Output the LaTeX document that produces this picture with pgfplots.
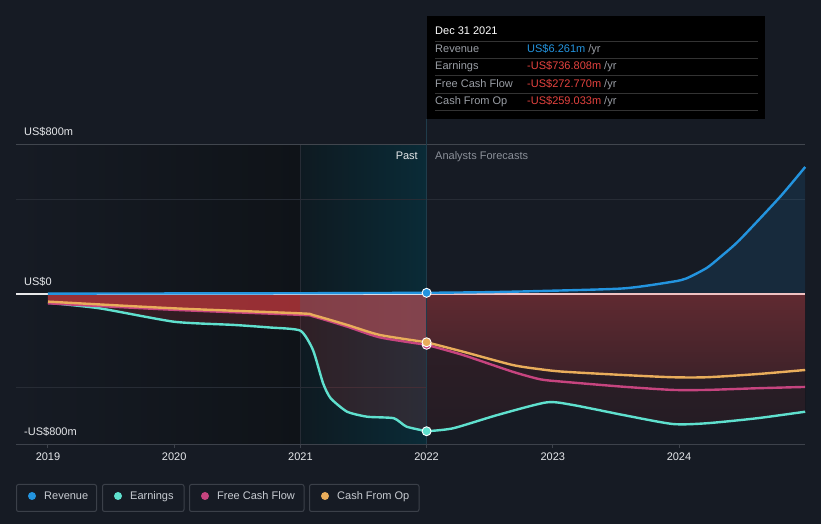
\documentclass[border=0pt]{standalone}
\usepackage{fontspec}
\setmainfont{Liberation Sans}
\usepackage{pgfplots}
\usepackage{pgfplotstable}
\pgfplotsset{compat=1.18}
\usepgfplotslibrary{fillbetween}

\definecolor{bg}{HTML}{161B24}
\definecolor{bgdark}{HTML}{0F1318}
\definecolor{bandL}{HTML}{0E1A21}
\definecolor{bandR}{HTML}{0A2B37}
\definecolor{gridA}{HTML}{41464E}
\definecolor{gridB}{HTML}{272C35}
\definecolor{axisc}{HTML}{3D424B}
\definecolor{revc}{HTML}{2394DF}
\definecolor{earnc}{HTML}{5FE0CE}
\definecolor{fcfc}{HTML}{C6447F}
\definecolor{cfoc}{HTML}{E9AD5B}
\definecolor{redfill}{HTML}{C83A3E}
\definecolor{pinkfill}{HTML}{B8525C}
\definecolor{fTop}{HTML}{602A31}
\definecolor{fMid}{HTML}{3E2229}
\definecolor{fLow}{HTML}{2D1E26}
\definecolor{fBot}{HTML}{241C24}
\definecolor{zeroF}{HTML}{F0C2C2}
\definecolor{txt}{HTML}{E6E8EB}
\definecolor{muted}{HTML}{8B9099}
\definecolor{ttlabel}{HTML}{9A9EA5}
\definecolor{ttred}{HTML}{E5433F}
\definecolor{ttline}{HTML}{333333}
\definecolor{vline}{HTML}{1F3C4B}
\definecolor{legb}{HTML}{3B4049}
\definecolor{legtxt}{HTML}{C8CCD2}

% ---------- Revenue ----------
\pgfplotstableread{
x y
2019.0 2
2020.0 3
2021.0 4
2022.0 6.261
}\revP
\pgfplotstableread{
x y
2022.0 6.261
2022.5 10
2022.9 16
2023.56 30
2023.95 66
2024.06 84
2024.22 140
2024.33 200
2024.48 290
2024.8 521
2025.0 682
}\revF

% ---------- Earnings ----------
\pgfplotstableread{
x y
2019.0 -47
2019.41 -77
2020.0 -149
2020.47 -166
2020.76 -180
2021.0 -197
2021.1 -301
2021.18 -480
2021.24 -560
2021.37 -632
2021.53 -659
2021.74 -667
2021.84 -712
2022.0 -736.808
}\earnP
\pgfplotstableread{
x y
2022.0 -736.808
2022.21 -721
2022.56 -650
2022.95 -582
2023.16 -596
2023.56 -650
2023.95 -698
2024.22 -694
2024.62 -667
2025.0 -632
}\earnF

% ---------- Cash From Op ----------
\pgfplotstableread{
x y
2019.0 -41
2020.0 -77
2021.0 -104
}\cfoPa
\pgfplotstableread{
x y
2021.0 -104
2021.1 -113
2021.37 -166
2021.63 -220
2022.0 -259.033
}\cfoPb
\pgfplotstableread{
x y
2019.0 -41
2020.0 -77
2021.0 -104
2021.1 -113
2021.37 -166
2021.63 -220
2022.0 -259.033
}\cfoP
\pgfplotstableread{
x y
2022.0 -259.033
2022.29 -310
2022.68 -381
2022.9 -404
2023.08 -417
2023.56 -435
2023.95 -447
2024.22 -447
2024.62 -430
2025.0 -408
}\cfoF

% ---------- Free Cash Flow ----------
\pgfplotstableread{
x y
2019.0 -50
2020.0 -85
2021.0 -112
2021.1 -120
2021.37 -175
2021.63 -233
2022.0 -272.770
}\fcfP
\pgfplotstableread{
x y
2022.0 -272.770
2022.29 -328
2022.68 -417
2022.9 -458
2023.08 -471
2023.56 -498
2023.95 -515
2024.22 -515
2024.62 -506
2025.0 -499
}\fcfF

\begin{document}
\begin{tikzpicture}[font=\fontsize{11bp}{13bp}\selectfont]
\path (0,0) rectangle (821bp,524bp);

\begin{axis}[at={(0,0)}, anchor=south west, scale only axis,
  width=821bp, height=524bp,
  xmin=2018.6197, xmax=2025.1252, ymin=-1234.9, ymax=1578.5,
  hide axis, set layers]
  \begin{pgfonlayer}{axis background}
    \fill[bg] (rel axis cs:0,0) rectangle (rel axis cs:1,1);
    \shade[left color=bg, right color=bgdark] (axis cs:2018.7465,800) rectangle (axis cs:2021,-805.4);
    \shade[left color=bandL, right color=bandR] (axis cs:2021,800) rectangle (axis cs:2022,-805.4);
    \draw[gridB, line width=1bp] (axis cs:2021,800) -- (axis cs:2021,-805.4);
    \draw[gridA, line width=1bp] (axis cs:2018.7465,800) -- (axis cs:2024.998,800);
    \draw[gridB, line width=1bp] (axis cs:2018.7465,504.7) -- (axis cs:2024.998,504.7);
    \draw[gridB, line width=1bp] (axis cs:2018.7465,-503.6) -- (axis cs:2024.998,-503.6);
    \draw[axisc, line width=1bp] (axis cs:2018.7465,-805.4) -- (axis cs:2024.998,-805.4);
    \draw[axisc, line width=1bp] (axis cs:2019,-805.4) -- (axis cs:2019,-826.8);
    \draw[axisc, line width=1bp] (axis cs:2020,-805.4) -- (axis cs:2020,-826.8);
    \draw[axisc, line width=1bp] (axis cs:2021,-805.4) -- (axis cs:2021,-826.8);
    \draw[axisc, line width=1bp] (axis cs:2022,-805.4) -- (axis cs:2022,-826.8);
    \draw[axisc, line width=1bp] (axis cs:2023,-805.4) -- (axis cs:2023,-826.8);
    \draw[axisc, line width=1bp] (axis cs:2024,-805.4) -- (axis cs:2024,-826.8);
  \end{pgfonlayer}

  % invisible boundary paths
  \addplot[draw=none, name path=zP, forget plot] coordinates {(2019,0) (2022,0)};
  \addplot[draw=none, name path=zPa, forget plot] coordinates {(2019,0) (2021,0)};
  \addplot[draw=none, name path=zPb, forget plot] coordinates {(2021,0) (2022,0)};
  \addplot[draw=none, name path=zF, forget plot] coordinates {(2022,0) (2025,0)};
  \addplot[draw=none, name path=eP, forget plot] table {\earnP};
  \addplot[draw=none, name path=eF, forget plot] table {\earnF};
  \addplot[draw=none, name path=cPa, forget plot] table {\cfoPa};
  \addplot[draw=none, name path=cPb, forget plot] table {\cfoPb};
  \addplot[draw=none, name path=cF, forget plot] table {\cfoF};
  \addplot[draw=none, name path=rF, forget plot] table {\revF};

  % fills
  \addplot[fill=revc, fill opacity=0.13, draw=none, forget plot] fill between[of=rF and zF];
  \addplot[fill=redfill, fill opacity=0.18, draw=none, forget plot] fill between[of=zP and eP];
  \addplot[fill=redfill, fill opacity=0.68, draw=none, forget plot] fill between[of=zPa and cPa];
  \addplot[fill=pinkfill, fill opacity=0.62, draw=none, forget plot] fill between[of=zPb and cPb];
  \addplot[draw=none, top color=fTop, bottom color=fMid, forget plot] fill between[of=zF and cF];
  \addplot[draw=none, top color=fLow, bottom color=fBot, forget plot] fill between[of=cF and eF];

  \draw[white, opacity=0.9, line width=1.2bp] (axis cs:2018.7465,0) -- (axis cs:2022,0);
  \draw[zeroF, line width=1.2bp] (axis cs:2022,0) -- (axis cs:2024.998,0);

  % visible lines
  \addplot[earnc, line width=2.4bp, smooth, tension=0.35, forget plot] table {\earnP};
  \addplot[earnc, line width=2.4bp, smooth, tension=0.4, forget plot] table {\earnF};
  \addplot[fcfc, line width=2.4bp, smooth, tension=0.4, forget plot] table {\fcfP};
  \addplot[fcfc, line width=2.4bp, smooth, tension=0.4, forget plot] table {\fcfF};
  \addplot[cfoc, line width=2.4bp, smooth, tension=0.4, forget plot] table {\cfoP};
  \addplot[cfoc, line width=2.4bp, smooth, tension=0.4, forget plot] table {\cfoF};
  \addplot[revc, line width=2.4bp, smooth, tension=0.4, forget plot] table {\revP};
  \addplot[revc, line width=2.4bp, smooth, tension=0.4, forget plot] table {\revF};

  \draw[vline, line width=1.5bp] (axis cs:2022,-805.4) -- (axis cs:2022,940);

  \addplot[only marks, mark=*, mark size=4.5bp, mark options={fill=fcfc, draw=white, line width=0.9bp}] coordinates {(2022,-272.770)};
  \addplot[only marks, mark=*, mark size=4.5bp, mark options={fill=cfoc, draw=white, line width=0.9bp}] coordinates {(2022,-259.033)};
  \addplot[only marks, mark=*, mark size=4.5bp, mark options={fill=earnc, draw=white, line width=0.9bp}] coordinates {(2022,-736.808)};
  \addplot[only marks, mark=*, mark size=4.5bp, mark options={fill=revc, draw=white, line width=0.9bp}] coordinates {(2022,6.261)};
\end{axis}

\begin{scope}[shift={(0,524bp)}, x=1bp, y=-1bp]
  \foreach \i/\lab in {0/2019,1/2020,2/2021,3/2022,4/2023,5/2024} {
    \node[txt, anchor=base, inner sep=0] at ({48+126.2*\i},461) {\lab};
  }
  \node[txt, anchor=base west, inner sep=0] at (24,136) {US\$800m};
  \node[txt, anchor=base west, inner sep=0] at (24,286) {US\$0};
  \node[txt, anchor=base west, inner sep=0] at (24,436) {-US\$800m};
  \node[txt, anchor=base east, inner sep=0] at (418,160) {Past};
  \node[muted, anchor=base west, inner sep=0] at (435,160) {Analysts Forecasts};

  % tooltip
  \fill[black] (427,16) rectangle (765,119);
  \node[white, anchor=base west, inner sep=0] at (435,35) {Dec 31 2021};
  \foreach \yy in {41.7,58.3,76,93.3,111} {
    \draw[ttline, line width=1bp] (435,\yy) -- (758,\yy);
  }
  \node[ttlabel, anchor=base west, inner sep=0] at (435,53) {Revenue};
  \node[ttlabel, anchor=base west, inner sep=0] at (435,70) {Earnings};
  \node[ttlabel, anchor=base west, inner sep=0] at (435,87.5) {Free Cash Flow};
  \node[ttlabel, anchor=base west, inner sep=0] at (435,104.5) {Cash From Op};
  \node[anchor=base west, inner sep=0] at (527,53) {\textcolor{revc}{US\$6.261m} \textcolor{ttlabel}{/yr}};
  \node[anchor=base west, inner sep=0] at (527,70) {\textcolor{ttred}{-US\$736.808m} \textcolor{ttlabel}{/yr}};
  \node[anchor=base west, inner sep=0] at (527,87.5) {\textcolor{ttred}{-US\$272.770m} \textcolor{ttlabel}{/yr}};
  \node[anchor=base west, inner sep=0] at (527,104.5) {\textcolor{ttred}{-US\$259.033m} \textcolor{ttlabel}{/yr}};

  % legend
  \foreach \xa/\xb/\c/\lab in {16.5/96.5/revc/Revenue, 102.5/184/earnc/Earnings, 189.5/304/fcfc/Free Cash Flow, 309.5/419/cfoc/Cash From Op} {
    \draw[legb, line width=1bp, rounded corners=2bp] (\xa,484.5) rectangle (\xb,511.5);
    \fill[\c] ({\xa+15.5},496) circle (4);
    \node[legtxt, anchor=base west, inner sep=0] at ({\xa+27.5},500) {\lab};
  }
\end{scope}
\end{tikzpicture}
\end{document}
